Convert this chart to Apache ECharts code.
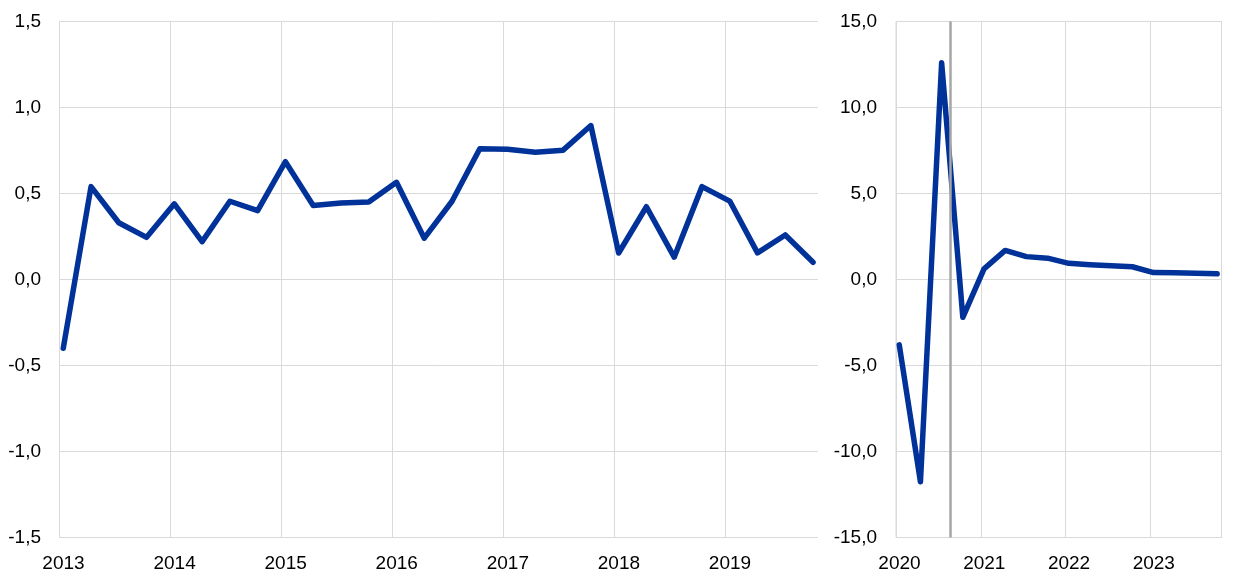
<!DOCTYPE html>
<html>
<head>
<meta charset="utf-8">
<script src="https://cdn.jsdelivr.net/npm/echarts@6/dist/echarts.min.js"></script>
<style>
html,body{margin:0;padding:0;background:#fff;}
#chart{width:1240px;height:583px;}
</style>
</head>
<body>
<div id="chart"></div>
<script>
// Quarterly categories (left panel: 2013Q1-2019Q4)
const quartersLeft = [
  '2013Q1','2013Q2','2013Q3','2013Q4',
  '2014Q1','2014Q2','2014Q3','2014Q4',
  '2015Q1','2015Q2','2015Q3','2015Q4',
  '2016Q1','2016Q2','2016Q3','2016Q4',
  '2017Q1','2017Q2','2017Q3','2017Q4',
  '2018Q1','2018Q2','2018Q3','2018Q4',
  '2019Q1','2019Q2','2019Q3','2019Q4'
];
const valuesLeft = [
  -0.40, 0.54, 0.33, 0.245,
  0.44, 0.22, 0.455, 0.40,
  0.685, 0.43, 0.445, 0.45,
  0.565, 0.24, 0.455, 0.76,
  0.757, 0.74, 0.752, 0.895,
  0.154, 0.423, 0.13, 0.54,
  0.456, 0.155, 0.259, 0.10
];
// Right panel: 2020Q1-2023Q4
const quartersRight = [
  '2020Q1','2020Q2','2020Q3','2020Q4',
  '2021Q1','2021Q2','2021Q3','2021Q4',
  '2022Q1','2022Q2','2022Q3','2022Q4',
  '2023Q1','2023Q2','2023Q3','2023Q4'
];
const valuesRight = [
  -3.8, -11.76, 12.6, -2.2,
  0.62, 1.69, 1.33, 1.24,
  0.94, 0.86, 0.80, 0.74,
  0.40, 0.39, 0.37, 0.33
];
const yearTicksLeft = [2013, 2014, 2015, 2016, 2017, 2018, 2019];
const yearTicksRight = [2020, 2021, 2022, 2023];
const breakLineDate = 2020.642; // vertical reference line (Aug 2020)

// quarter label -> decimal year at mid of quarter's first month
function qToYear(q) {
  const y = parseInt(q.slice(0, 4), 10);
  const n = parseInt(q.slice(5), 10);
  return y + (n - 1) * 0.25 + 14 / 365;
}
const dataLeft = quartersLeft.map((q, i) => [qToYear(q), valuesLeft[i]]);
const dataRight = quartersRight.map((q, i) => [qToYear(q), valuesRight[i]]);

const FONT = 'Liberation Sans, Arial, sans-serif';
const GRID_COLOR = '#d9d9d9';
const LINE_COLOR = '#003299';

function yearFmt(ticks) {
  return function (v) {
    const r = Math.round(v);
    return (Math.abs(v - r) < 1e-6 && ticks.indexOf(r) >= 0) ? String(r) : '';
  };
}
function commaFmt(v) { return v.toFixed(1).replace('.', ','); }

const chart = echarts.init(document.getElementById('chart'), null, {renderer: 'canvas'});
chart.setOption({
  animation: false,
  backgroundColor: '#fff',
  grid: [
    {left: 59, right: 422, top: 21.5, bottom: 45.5},
    {left: 896, right: 18.5, top: 21.5, bottom: 45.5, show: true,
     borderColor: GRID_COLOR, borderWidth: 1, backgroundColor: 'transparent'}
  ],
  xAxis: [
    {
      type: 'value', gridIndex: 0,
      min: yearTicksLeft[0], max: 2019.833, interval: 1,
      axisLine: {show: false}, axisTick: {show: false},
      splitLine: {show: true, showMaxLine: false, lineStyle: {color: GRID_COLOR, width: 1}},
      axisLabel: {formatter: yearFmt(yearTicksLeft), fontFamily: FONT, fontSize: 19,
                  color: '#000', margin: 17, padding: [0, 0, 0, 9],
                  showMaxLabel: false}
    },
    {
      type: 'value', gridIndex: 1,
      min: yearTicksRight[0], max: 2023.84, interval: 1,
      axisLine: {show: false}, axisTick: {show: false},
      splitLine: {show: true, showMaxLine: false, lineStyle: {color: GRID_COLOR, width: 1}},
      axisLabel: {formatter: yearFmt(yearTicksRight), fontFamily: FONT, fontSize: 19,
                  color: '#000', margin: 17, padding: [0, 0, 0, 7],
                  showMaxLabel: false}
    }
  ],
  yAxis: [
    {
      type: 'value', gridIndex: 0, min: -1.5, max: 1.5, interval: 0.5,
      axisLine: {show: false}, axisTick: {show: false},
      splitLine: {show: true, lineStyle: {color: GRID_COLOR, width: 1}},
      axisLabel: {formatter: commaFmt, fontFamily: FONT, fontSize: 19, color: '#000', margin: 18}
    },
    {
      type: 'value', gridIndex: 1, min: -15, max: 15, interval: 5,
      axisLine: {show: false}, axisTick: {show: false},
      splitLine: {show: true, lineStyle: {color: GRID_COLOR, width: 1}},
      axisLabel: {formatter: commaFmt, fontFamily: FONT, fontSize: 19, color: '#000', margin: 19}
    }
  ],
  series: [
    {
      type: 'line', xAxisIndex: 0, yAxisIndex: 0, data: dataLeft,
      showSymbol: false, symbol: 'none',
      lineStyle: {color: LINE_COLOR, width: 5.5, cap: 'round', join: 'round'}
    },
    {
      type: 'line', xAxisIndex: 1, yAxisIndex: 1, data: dataRight,
      showSymbol: false, symbol: 'none',
      lineStyle: {color: LINE_COLOR, width: 5.5, cap: 'round', join: 'round'},
      z: 3,
      markLine: {
        silent: true, symbol: 'none', label: {show: false},
        lineStyle: {color: '#a6a6a6', width: 2.5, type: 'solid'},
        data: [{xAxis: breakLineDate}],
        z: 4
      }
    }
  ]
});
</script>
</body>
</html>
